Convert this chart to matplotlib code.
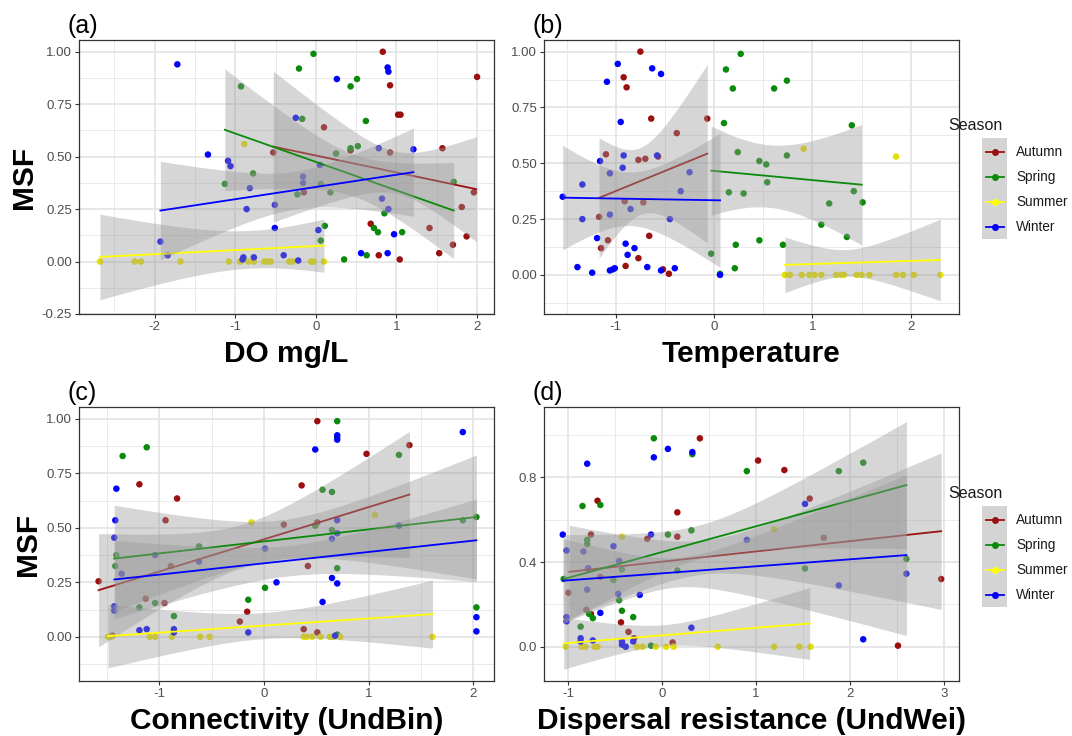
import numpy as np
import matplotlib.pyplot as plt
from matplotlib.lines import Line2D
from matplotlib.patches import Rectangle

plt.rcParams['font.family'] = ['Liberation Sans', 'DejaVu Sans']

SEASONS = ["Autumn", "Spring", "Summer", "Winter"]
COLORS = {"Autumn": "#9b0f0f", "Spring": "#0a8a0a", "Summer": "#ffff00", "Winter": "#0000ff"}
POINT_COLORS = {"Autumn": "#9b0f0f", "Spring": "#0a8a0a", "Summer": "#e6e000", "Winter": "#0000ff"}

# ---- (a) DO mg/L ----
do_x = {
    "Autumn": [0.83, 2.00, 0.92, 1.02, 1.05, 0.10, -0.53, 0.43, 0.92, 1.57, -0.15, 1.96, 1.81, 0.68,
               1.41, 1.87, 1.70, 1.53, 0.78, 1.04],
    "Spring": [-0.03, -0.21, 0.51, 0.43, -0.93, -0.17, 0.62, 0.52, 0.43, 0.25, -0.78, -1.13, 0.06, 1.71,
               0.18, -0.23, 0.85, 0.72, 0.77, 1.07, 0.11, 0.06, 0.35, 0.63],
    "Summer": [-0.89, -2.68, -2.25, -2.17, -1.68, -1.08, -0.94, -0.84, -0.77, -0.64, -0.60, -0.56, -0.33,
               -0.29, -0.06, -0.03, 0.10],
    "Winter": [-1.72, 0.26, 0.89, 0.90, -0.25, -1.34, -1.09, -1.06, 0.78, 1.21, 0.05, -0.16, -0.16, -0.82,
               -0.51, -0.86, 0.82, 0.90, -0.51, 0.03, 0.97, -1.93, -1.84, -0.40, -0.90, -0.91, -0.77, -0.22,
               0.56, 0.89],
}
do_y = {
    "Autumn": [1.00, 0.88, 0.84, 0.70, 0.70, 0.64, 0.52, 0.53, 0.52, 0.54, 0.33, 0.33, 0.26, 0.18,
               0.16, 0.12, 0.08, 0.04, 0.03, 0.01],
    "Spring": [0.99, 0.92, 0.87, 0.835, 0.835, 0.68, 0.67, 0.55, 0.54, 0.515, 0.42, 0.37, 0.37, 0.38,
               0.33, 0.32, 0.23, 0.16, 0.14, 0.14, 0.17, 0.10, 0.01, 0.03],
    "Summer": [0.56, 0, 0, 0, 0, 0, 0, 0, 0, 0, 0, 0, 0, 0, 0, 0, 0],
    "Winter": [0.94, 0.87, 0.925, 0.905, 0.685, 0.51, 0.48, 0.455, 0.54, 0.535, 0.46, 0.405, 0.375, 0.35,
               0.27, 0.25, 0.30, 0.25, 0.16, 0.15, 0.13, 0.095, 0.03, 0.03, 0.02, 0.01, 0.02, 0.005,
               0.04, 0.04],
}
# fit: x start, x end, y start, y end, CI half-width at start / narrowest / end
do_fit = {
    "Autumn": (-0.53, 1.99, 0.548, 0.345, 0.36, 0.10, 0.25),
    "Spring": (-1.13, 1.71, 0.628, 0.243, 0.29, 0.10, 0.23),
    "Summer": (-2.68, 0.10, 0.022, 0.076, 0.204, 0.09, 0.127),
    "Winter": (-1.93, 1.21, 0.243, 0.426, 0.235, 0.09, 0.21),
}

# ---- (b) Temperature ----
temp_x = {
    "Autumn": [-0.75, -0.92, -0.89, -0.64, -0.07, -0.38, -1.10, -0.77, -0.70, -0.57, -0.91, -0.72, -1.17,
               -1.08, -1.15, -0.66, -0.77, -0.90, -0.52, -0.46],
    "Spring": [0.27, 0.12, 0.19, 0.61, 0.74, 0.10, 1.40, 0.24, 0.46, 0.53, 0.74, 0.54, 0.15, 0.30, 1.42,
               1.17, 1.51, 1.09, 1.35, 0.46, 0.22, 0.70, -0.03, 0.21, 0.06],
    "Summer": [0.91, 1.85, 0.72, 0.77, 0.89, 0.97, 1.02, 1.09, 1.24, 1.29, 1.32, 1.45, 1.50, 1.58, 1.85,
               1.92, 2.03, 2.30],
    "Winter": [-1.54, -1.34, -1.34, -1.39, -1.24, -1.19, -1.16, -1.09, -1.06, -1.06, -1.06, -1.03, -1.01,
               -0.98, -0.95, -0.93, -0.92, -0.90, -0.88, -0.85, -0.81, -0.68, -0.63, -0.58, -0.54, -0.54,
               -0.45, -0.40, -0.34, -0.25, 0.06],
}
temp_y = {
    "Autumn": [1.00, 0.885, 0.84, 0.70, 0.70, 0.635, 0.54, 0.515, 0.52, 0.53, 0.33, 0.325, 0.26, 0.155,
               0.12, 0.175, 0.075, 0.04, 0.025, 0.005],
    "Spring": [0.99, 0.92, 0.835, 0.835, 0.87, 0.68, 0.67, 0.55, 0.51, 0.495, 0.535, 0.415, 0.37, 0.365,
               0.375, 0.32, 0.325, 0.225, 0.17, 0.155, 0.135, 0.135, 0.095, 0.03, 0.005],
    "Summer": [0.565, 0.53, 0, 0, 0, 0, 0, 0, 0, 0, 0, 0, 0, 0, 0, 0, 0, 0],
    "Winter": [0.35, 0.405, 0.25, 0.035, 0.01, 0.165, 0.51, 0.865, 0.27, 0.455, 0.02, 0.025, 0.03, 0.945,
               0.685, 0.48, 0.535, 0.14, 0.09, 0.295, 0.12, 0.035, 0.925, 0.535, 0.90, 0.02, 0.25, 0.03,
               0.375, 0.46, 0.0],
}
temp_fit = {
    "Autumn": (-1.17, -0.07, 0.345, 0.543, 0.27, 0.15, 0.40),
    "Spring": (-0.03, 1.50, 0.467, 0.404, 0.20, 0.14, 0.27),
    "Summer": (0.72, 2.30, 0.045, 0.067, 0.125, 0.06, 0.183),
    "Winter": (-1.54, 0.06, 0.346, 0.334, 0.234, 0.12, 0.30),
}

# ---- (c) Connectivity (UndBin) ----
conn_x = {
    "Autumn": [-1.58, -1.19, -0.83, -0.94, -1.13, -0.95, -0.89, -1.45, -0.23, -0.16, 0.19, 0.51, 0.36,
               0.42, 0.51, 0.38, 0.51, 0.98, 1.39],
    "Spring": [-1.35, -1.12, -1.41, -1.42, -1.19, -1.04, -0.86, -0.62, -0.15, 0.01, 0.49, 0.56, 0.65,
               0.65, 0.70, 0.70, 0.70, 1.29, 1.90, 2.03, 2.03, 0.70],
    "Summer": [-0.12, 1.06, -1.49, -1.46, -1.09, -1.04, -0.88, -0.61, -0.52, 0.38, 0.41, 0.46, 0.54, 0.63,
               0.66, 0.73, 1.61],
    "Winter": [-1.41, -1.42, -1.43, -1.43, -1.43, -1.36, -1.19, -1.12, -1.04, -0.86, -0.86, -0.62, -0.15,
               0.01, 0.12, 0.49, 0.56, 0.65, 0.65, 0.70, 0.70, 0.70, 0.70, 0.70, 0.68, 1.29, 1.90, 2.03,
               2.03],
}
conn_y = {
    "Autumn": [0.255, 0.70, 0.635, 0.535, 0.175, 0.155, 0.325, 0.005, 0.07, 0.115, 0.515, 0.99, 0.695,
               0.325, 0.525, 0.035, 0.02, 0.84, 0.88],
    "Spring": [0.83, 0.87, 0.375, 0.325, 0.135, 0.155, 0.095, 0.415, 0.17, 0.225, 0.51, 0.675, 0.665,
               0.49, 0.99, 0.915, 0.315, 0.835, 0.535, 0.55, 0.135, 0.01],
    "Summer": [0.525, 0.56, 0, 0, 0, 0, 0, 0, 0, 0, 0, 0, 0, 0, 0, 0, 0],
    "Winter": [0.68, 0.535, 0.455, 0.14, 0.12, 0.29, 0.03, 0.035, 0.375, 0.035, 0.02, 0.345, 0.02, 0.405,
               0.25, 0.86, 0.16, 0.27, 0.45, 0.925, 0.905, 0.535, 0.475, 0.245, 0.005, 0.51, 0.94, 0.09,
               0.025],
}
conn_fit = {
    "Autumn": (-1.58, 1.39, 0.214, 0.653, 0.26, 0.10, 0.29),
    "Spring": (-1.43, 2.03, 0.359, 0.55, 0.245, 0.09, 0.285),
    "Summer": (-1.49, 1.61, 0.003, 0.104, 0.146, 0.06, 0.156),
    "Winter": (-1.43, 2.03, 0.263, 0.443, 0.18, 0.07, 0.19),
}

# ---- (d) Dispersal resistance (UndWei) ----
disp_x = {
    "Autumn": [0.40, 1.02, 1.30, -0.69, 0.16, -0.76, -0.79, -0.66, -1.00, -0.16, 0.16, -0.81, -0.76, -0.44,
               -0.36, -0.30, 0.11, 1.57, 1.72, 2.51, 2.97],
    "Spring": [-0.09, 0.32, -0.85, -0.66, -0.80, -0.80, -1.05, -0.52, -0.43, -0.46, -0.43, -0.31, -0.87,
               -0.78, -0.74, 0.06, 0.31, 0.16, 0.90, 1.88, 2.14, 1.52, 2.60, -0.12],
    "Summer": [-0.43, 1.19, -1.03, -0.86, -0.82, -0.72, -0.69, -0.39, -0.27, -0.21, -0.07, 0.04, 0.12,
               0.59, 1.19, 1.46, 1.58],
    "Winter": [-1.06, -1.02, -0.80, -0.84, -0.79, -0.80, -0.52, -0.46, -0.47, -0.24, -0.12, -0.09, 0.06,
               0.32, -0.66, -1.02, -1.02, -0.87, -0.87, -0.74, -0.43, -0.43, -0.39, -0.31, 0.31, 0.90, 1.52,
               1.88, 2.14, 2.60],
}
disp_y = {
    "Autumn": [0.985, 0.88, 0.835, 0.69, 0.635, 0.53, 0.37, 0.33, 0.255, 0.51, 0.52, 0.175, 0.155, 0.115,
               0.07, 0.04, 0.02, 0.70, 0.515, 0.005, 0.32],
    "Spring": [0.985, 0.91, 0.665, 0.67, 0.505, 0.485, 0.32, 0.315, 0.365, 0.22, 0.17, 0.14, 0.095, 0.155,
               0.135, 0.53, 0.55, 0.36, 0.83, 0.83, 0.87, 0.37, 0.415, 0.005],
    "Summer": [0.52, 0.555, 0, 0, 0, 0, 0, 0, 0, 0, 0, 0, 0, 0, 0, 0, 0],
    "Winter": [0.53, 0.455, 0.865, 0.45, 0.37, 0.27, 0.475, 0.405, 0.25, 0.245, 0.53, 0.895, 0.935, 0.92,
               0.16, 0.14, 0.12, 0.04, 0.025, 0.03, 0.025, 0.01, 0.0, 0.025, 0.09, 0.505, 0.675, 0.29,
               0.035, 0.345],
}
disp_fit = {
    "Autumn": (-0.99, 2.97, 0.354, 0.546, 0.22, 0.08, 0.37),
    "Spring": (-1.05, 2.60, 0.32, 0.764, 0.21, 0.08, 0.30),
    "Summer": (-1.05, 1.57, 0.016, 0.11, 0.122, 0.05, 0.17),
    "Winter": (-1.06, 2.60, 0.312, 0.433, 0.20, 0.07, 0.38),
}


def ci_band(x0, x1, y0, y1, hl, hm, hr, n=100):
    # lm-style confidence band: half width grows like a hyperbola away from the centre
    r = np.sqrt((hl ** 2 - hm ** 2) / (hr ** 2 - hm ** 2))
    xc = (x0 + r * x1) / (1 + r)
    k = np.sqrt(hl ** 2 - hm ** 2) / (xc - x0)
    xs = np.linspace(x0, x1, n)
    ys = y0 + (y1 - y0) * (xs - x0) / (x1 - x0)
    hw = np.sqrt(hm ** 2 + k ** 2 * (xs - xc) ** 2)
    return xs, ys, ys - hw, ys + hw


def draw_panel(ax, xs, ys, fits, xlim, ylim, xmaj, xmin, ymaj, ymin, ylabels):
    ax.set_facecolor("white")
    for v in xmin:
        ax.axvline(v, color="#e6e6e6", lw=0.6, zorder=0)
    for v in ymin:
        ax.axhline(v, color="#e6e6e6", lw=0.6, zorder=0)
    for v in xmaj:
        ax.axvline(v, color="#e3e3e3", lw=1.2, zorder=0)
    for v in ymaj:
        ax.axhline(v, color="#e3e3e3", lw=1.2, zorder=0)

    for s in SEASONS:
        ax.scatter(xs[s], ys[s], s=22, color=POINT_COLORS[s], edgecolors="none", zorder=2)

    z = 3
    for s in SEASONS:
        bx, by, lo, hi = ci_band(*fits[s])
        ax.fill_between(bx, lo, hi, color="#999999", alpha=0.4, lw=0, zorder=z)
        ax.plot(bx, by, color=COLORS[s], lw=1.3, zorder=z + 0.5)
        z += 1

    ax.set_xlim(*xlim)
    ax.set_ylim(*ylim)
    ax.set_xticks(xmaj)
    ax.set_xticklabels([f"{v:g}" for v in xmaj])
    ax.set_yticks(ymaj)
    ax.set_yticklabels(ylabels)
    ax.tick_params(colors="#333333", labelcolor="#4d4d4d", labelsize=9.5, length=3, width=0.8, pad=2)
    for sp in ax.spines.values():
        sp.set_color("#333333")
        sp.set_linewidth(0.9)


W, H = 1072, 736
fig = plt.figure(figsize=(W / 100, H / 100), dpi=100)


def px_axes(l, t, r, b):
    return fig.add_axes([l / W, 1 - b / H, (r - l) / W, (b - t) / H])


ax_a = px_axes(79, 40, 494, 314)
ax_b = px_axes(544, 40, 959, 314)
ax_c = px_axes(79, 407, 494, 681)
ax_d = px_axes(544, 407, 959, 681)

y25 = [-0.25, 0, 0.25, 0.5, 0.75, 1.0]
y25_minor = [-0.125, 0.125, 0.375, 0.625, 0.875]

draw_panel(ax_a, do_x, do_y, do_fit, (-2.94, 2.21), (-0.25, 1.056),
           [-2, -1, 0, 1, 2], [-2.5, -1.5, -0.5, 0.5, 1.5], y25, y25_minor,
           ["-0.25", "0.00", "0.25", "0.50", "0.75", "1.00"])
draw_panel(ax_b, temp_x, temp_y, temp_fit, (-1.73, 2.49), (-0.175, 1.052),
           [-1, 0, 1, 2], [-1.5, -0.5, 0.5, 1.5], y25[1:], y25_minor,
           ["0.00", "0.25", "0.50", "0.75", "1.00"])
draw_panel(ax_c, conn_x, conn_y, conn_fit, (-1.767, 2.198), (-0.203, 1.055),
           [-1, 0, 1, 2], [-1.5, -0.5, 0.5, 1.5], y25[1:], y25_minor,
           ["0.00", "0.25", "0.50", "0.75", "1.00"])
draw_panel(ax_d, disp_x, disp_y, disp_fit, (-1.26, 3.16), (-0.162, 1.133),
           [-1, 0, 1, 2, 3], [-0.5, 0.5, 1.5, 2.5], [0, 0.4, 0.8], [0.2, 0.6, 1.0],
           ["0.0", "0.4", "0.8"])

xlabels = ["DO mg/L", "Temperature", "Connectivity (UndBin)", "Dispersal resistance (UndWei)"]
for ax, lab, tag in zip([ax_a, ax_b, ax_c, ax_d], xlabels, ["(a)", "(b)", "(c)", "(d)"]):
    ax.set_xlabel(lab, fontsize=21.5, fontweight="bold", labelpad=5)
    ax.text(-0.028, 1.051, tag, transform=ax.transAxes, fontsize=18, ha="left", va="center")
for ax in [ax_a, ax_c]:
    ax.set_ylabel("MSF", fontsize=21.5, fontweight="bold", labelpad=3)


def draw_legend(top):
    fig.text(948 / W, 1 - top / H, "Season", fontsize=11.5, ha="left", va="center", color="#1a1a1a")
    rows = [top + 27, top + 52, top + 77, top + 102]
    fig.add_artist(Rectangle((982 / W, 1 - (top + 114) / H), 25 / W, 101 / H,
                             transform=fig.transFigure, facecolor="#d4d4d4", edgecolor="none"))
    for s, yy in zip(SEASONS, rows):
        fy = 1 - yy / H
        fig.add_artist(Line2D([986 / W, 1004 / W], [fy, fy], transform=fig.transFigure,
                              color=COLORS[s], lw=1.3))
        fig.add_artist(Line2D([995 / W], [fy], transform=fig.transFigure, marker="o",
                              markersize=4, color=COLORS[s], lw=0))
        fig.text(1016 / W, fy, s, fontsize=9.8, ha="left", va="center", color="#1a1a1a")


draw_legend(125)
draw_legend(493)

fig.savefig("out.png", dpi=100)
